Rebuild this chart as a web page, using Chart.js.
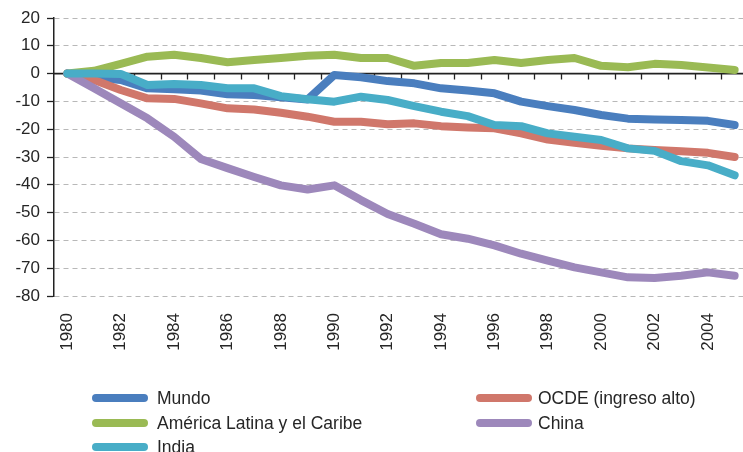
<!DOCTYPE html>
<html>
<head>
<meta charset="utf-8">
<script src="https://cdn.jsdelivr.net/npm/chart.js@4/dist/chart.umd.min.js"></script>
<style>
  html, body { margin: 0; padding: 0; background: #fff; overflow: hidden; width: 743px; height: 452px; }
  #wrap { position: absolute; left: 0; top: 0; width: 748px; height: 372px; }
  #legend { position: absolute; left: 0; top: 0; width: 743px; height: 452px; pointer-events: none;
    font-family: "Liberation Sans", Arial, sans-serif; font-size: 17.5px; color: #262626; }
  .item { position: absolute; height: 24px; line-height: 24px; white-space: nowrap; }
  .sw { position: absolute; top: 8px; width: 56px; height: 8px; border-radius: 4px; }
  .lbl { position: absolute; top: 0; }
</style>
</head>
<body>
<div id="wrap"><canvas id="chart" width="748" height="372"></canvas></div>
<div id="legend"></div>
<script>
const years = ['1980', '1981', '1982', '1983', '1984', '1985', '1986', '1987', '1988', '1989',
  '1990', '1991', '1992', '1993', '1994', '1995', '1996', '1997', '1998', '1999',
  '2000', '2001', '2002', '2003', '2004', '2005'];

const mundo = [0, -1.4, -2.3, -5.3, -5.6, -6.1, -7.4, -7.7, -8.5, -9.3, -0.5, -1.3, -2.7, -3.5, -5.3, -6.1, -7.1, -10.1, -11.7, -13.1, -14.9, -16.2, -16.5, -16.7, -17, -18.5];
const ocde = [0, -2.3, -5.9, -8.9, -9.1, -10.7, -12.5, -12.9, -14.1, -15.5, -17.3, -17.3, -18.2, -17.9, -18.9, -19.4, -19.7, -21.5, -23.7, -24.9, -26, -26.9, -27.5, -27.9, -28.5, -30];
const americaLatina = [0, 1.0, 3.5, 6.1, 6.8, 5.6, 4.1, 4.9, 5.6, 6.4, 6.8, 5.6, 5.6, 2.8, 3.8, 3.8, 4.9, 3.8, 4.9, 5.6, 2.8, 2.3, 3.5, 3.1, 2.2, 1.3];
const china = [0, -5.3, -10.7, -16.1, -22.7, -30.7, -34, -37.2, -40.2, -41.7, -40.2, -45.5, -50.5, -54, -57.8, -59.4, -61.8, -64.8, -67.3, -69.7, -71.5, -73.3, -73.5, -72.7, -71.5, -72.7];
const india = [0, 0, -0.1, -4.1, -3.7, -4.1, -5.3, -5.3, -8.1, -9.2, -10.1, -8.3, -9.5, -11.7, -13.7, -15.3, -18.5, -18.9, -21.5, -22.7, -23.9, -26.9, -27.8, -31.5, -33, -36.6];

const seriesNames = ['Mundo', 'OCDE (ingreso alto)', 'América Latina y el Caribe', 'China', 'India'];
const seriesData = [mundo, ocde, americaLatina, china, india];
const seriesColors = ['#4a7ebe', '#d0776b', '#9aba54', '#9d88bb', '#48adc7'];
const yTicks = [20, 10, 0, -10, -20, -30, -40, -50, -60, -70, -80];

const textColor = '#262626';
const font = { family: '"Liberation Sans", Arial, sans-serif', size: 17 };

// later series on top (like the original)
const datasets = seriesNames.map((name, i) => ({
  label: name,
  data: seriesData[i],
  borderColor: seriesColors[i],
  backgroundColor: seriesColors[i],
  borderWidth: 8,
  pointRadius: 0,
  tension: 0,
  borderCapStyle: 'round',
  borderJoinStyle: 'round',
  fill: false,
  order: seriesNames.length - i
}));

// eje horizontal en el 0 con marcas entre categorías
const zeroAxis = {
  id: 'zeroAxis',
  beforeDatasetsDraw(chart) {
    const { ctx, chartArea, scales: { x, y } } = chart;
    const y0 = y.getPixelForValue(0);
    const half = (x.getPixelForValue(1) - x.getPixelForValue(0)) / 2;
    ctx.save();
    ctx.strokeStyle = '#222';
    ctx.lineWidth = 1.3;
    ctx.beginPath();
    for (let i = 0; i <= years.length; i++) {
      const px = Math.round(x.getPixelForValue(i) - half) + 0.5;
      if (px > chartArea.left + 1) {
        ctx.moveTo(px, y0);
        ctx.lineTo(px, y0 + 6);
      }
    }
    ctx.stroke();
    ctx.lineWidth = 1.6;
    ctx.beginPath();
    ctx.moveTo(chartArea.left, y0);
    ctx.lineTo(chartArea.right, y0);
    ctx.stroke();
    ctx.restore();
  }
};

new Chart(document.getElementById('chart').getContext('2d'), {
  type: 'line',
  data: { labels: years, datasets: datasets },
  plugins: [zeroAxis],
  options: {
    responsive: false,
    animation: false,
    devicePixelRatio: 1,
    layout: { padding: { top: 18, right: 0, left: 0, bottom: 0 } },
    plugins: { legend: { display: false }, tooltip: { enabled: false } },
    scales: {
      x: {
        type: 'category',
        position: 'bottom',
        offset: true,
        grid: { display: false, drawTicks: false },
        border: { display: false },
        ticks: {
          autoSkip: false, minRotation: 90, maxRotation: 90, padding: 17,
          color: textColor, font: font,
          callback: function (v, i) { return i % 2 === 0 ? years[i] : ''; }
        },
        afterFit: function (scale) {
          scale.height = 76;
          scale.paddingLeft = 0;
          scale.paddingRight = 0;
        }
      },
      y: {
        min: -80, max: 20,
        afterBuildTicks: function (scale) { scale.ticks = yTicks.map(v => ({ value: v })); },
        ticks: { color: textColor, font: font, padding: 7 },
        grid: { color: '#b8b8b8', lineWidth: 1, drawTicks: true, tickLength: 7, tickColor: '#222', tickWidth: 1.3 },
        border: { display: true, color: '#222', width: 1.5, dash: [5, 4] },
        afterFit: function (scale) { scale.width = 54; }
      }
    }
  }
});

// leyenda en dos columnas
const legend = document.getElementById('legend');
const legendPos = [
  { x: 92, y: 386 }, { x: 476, y: 386 },
  { x: 92, y: 410.5 }, { x: 476, y: 410.5 },
  { x: 92, y: 435 }
];
seriesNames.forEach((name, i) => {
  const item = document.createElement('div');
  item.className = 'item';
  item.style.left = legendPos[i].x + 'px';
  item.style.top = legendPos[i].y + 'px';
  item.innerHTML = '<span class="sw" style="left:0;background:' + seriesColors[i] + '"></span>' +
    '<span class="lbl" style="left:' + (i % 2 === 0 ? 65 : 62) + 'px">' + name + '</span>';
  legend.appendChild(item);
});
</script>
</body>
</html>
